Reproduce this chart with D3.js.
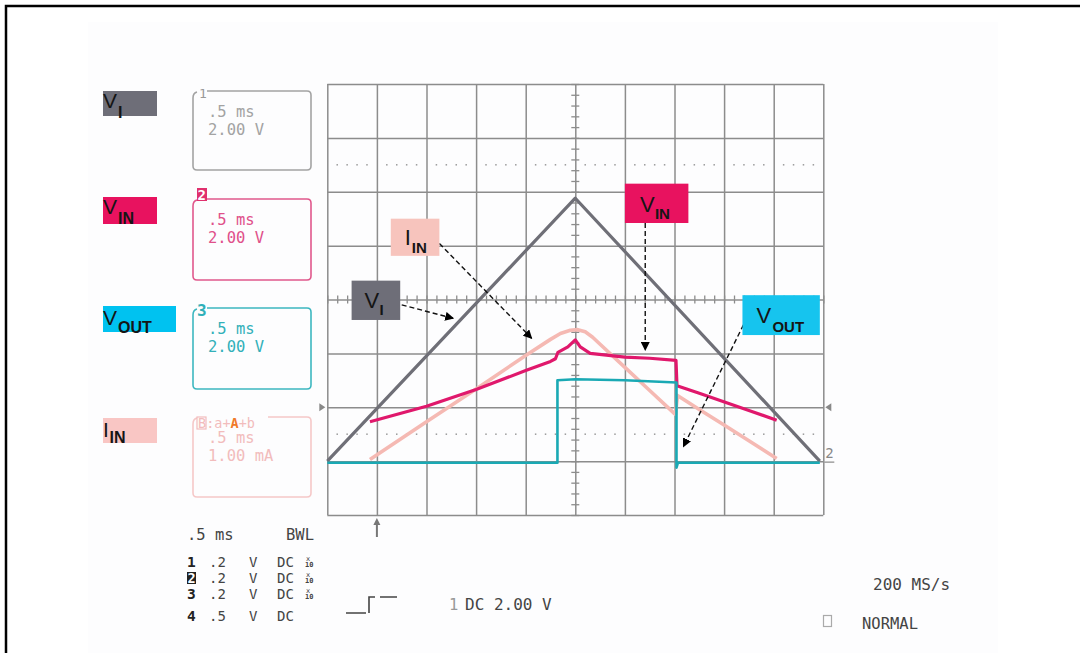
<!DOCTYPE html>
<html><head><meta charset="utf-8">
<script src="https://cdn.jsdelivr.net/npm/d3@7"></script>
<style>html,body{margin:0;padding:0;background:#fff;}svg{display:block}</style>
</head><body>
<svg id="c" width="1080" height="653"></svg>
<script>
// ---------- data (grid divisions: x 0..10, y 0..8) ----------
const xDivisions = d3.range(0, 11);
const yDivisions = d3.range(0, 9);
const minorTicksX = d3.range(0, 10.001, 0.2);
const minorTicksY = d3.range(0, 8.001, 0.2);
const dottedLevels = [1.5, 6.5];
const channelMarkerLevel = 2;
const groundLevel = 1;
const triggerPosition = 1;

const seriesVI   = [[0,1.0],[5.0,5.88],[9.93,1.0]];
const seriesIIN  = [[0.86,1.03],[2,1.73],[3,2.34],[4,2.96],[4.5,3.26],[4.7,3.37],[4.9,3.43],[5.05,3.44],[5.2,3.40],[5.35,3.30],[5.5,3.17],[6,2.74],[6.5,2.31],[6.99,1.89],[7.02,1.87],[7.06,2.22],[7.5,1.96],[8,1.67],[8.5,1.38],[9.06,1.05]];
const seriesVIN  = [[0.86,1.73],[2,2.02],[3,2.33],[4,2.68],[4.5,2.85],[4.6,2.9],[4.65,3.02],[4.85,3.12],[5.0,3.25],[5.1,3.12],[5.3,3.0],[6,2.93],[6.5,2.91],[7.03,2.87],[7.05,2.4],[7.5,2.26],[8.5,1.94],[9.06,1.76]];
const seriesVOUT = [[0,0.97],[4.64,0.97],[4.64,2.5],[5,2.52],[6,2.5],[7.04,2.46],[7.04,0.88],[7.07,0.97],[9.93,0.97]];

const seriesNames  = ["V_I","V_IN","V_OUT","I_IN"];
const channelNums  = ["1","2","3","B"];
const channelTime  = [".5 ms",".5 ms",".5 ms",".5 ms"];
const channelScale = ["2.00 V","2.00 V","2.00 V","1.00 mA"];
const bottomRows   = [["1",".2","V","DC",true],["2",".2","V","DC",true],["3",".2","V","DC",true],["4",".5","V","DC",false]];
const timebase = ".5 ms", bwl = "BWL", trigText = "DC 2.00 V", sampleRate = "200 MS/s", modeText = "NORMAL";

// annotations in division coordinates: box [x0,y0,x1,y1], arrow [x0,y0,x1,y1]
const annotations = [
  {main:"V", sub:"I",   color:"#6e6e78", box:[0.49,4.35,1.47,3.62], arrow:[1.50,3.90,2.54,3.65], tv:[13,27.5], ts:[28,34.5]},
  {main:"I", sub:"IN",  color:"#f7c4bd", box:[1.28,5.50,2.26,4.81], arrow:[2.26,5.04,4.12,3.28], tv:[14,26.5], ts:[21,34]},
  {main:"V", sub:"IN",  color:"#e8125f", box:[6.00,6.15,7.28,5.42], arrow:[6.41,5.42,6.41,3.06], tv:[15,28.5], ts:[30,35]},
  {main:"V", sub:"OUT", color:"#16c4ee", box:[8.37,4.08,9.93,3.34], arrow:[8.39,3.53,7.18,1.27], tv:[14,28], ts:[30,37]}
];

// ---------- setup ----------
const svg = d3.select("#c");
const x = d3.scaleLinear().domain([0,10]).range([327.3,823.3]);
const y = d3.scaleLinear().domain([0,8]).range([515,84]);
const gridColor = "#8c8c8c";
const mono = "'DejaVu Sans Mono','Liberation Mono',monospace";
const sans = "'Liberation Sans',Arial,sans-serif";

svg.append("rect").attr("width",1080).attr("height",653).attr("fill","#fff");
svg.append("rect").attr("x",88).attr("y",22).attr("width",910).attr("height",631).attr("fill","#fdfdfe");
// frame
svg.append("path").attr("d","M6,653 V6 H1080").attr("fill","none").attr("stroke","#000").attr("stroke-width",2.5);

const defs = svg.append("defs");
defs.append("marker").attr("id","ah").attr("viewBox","0 0 10 10").attr("refX",9).attr("refY",5)
  .attr("markerWidth",9).attr("markerHeight",9).attr("markerUnits","userSpaceOnUse").attr("orient","auto")
  .append("path").attr("d","M0,0 L10,5 L0,10 z").attr("fill","#000");

// ---------- grid via axes ----------
const plot = svg.append("g");
const gx = plot.append("g").attr("transform",`translate(0,${y(8)})`)
  .call(d3.axisTop(x).tickValues(xDivisions).tickSize(-(y(0)-y(8))).tickFormat(""));
const gy = plot.append("g").attr("transform",`translate(${x(0)},0)`)
  .call(d3.axisLeft(y).tickValues(yDivisions).tickSize(-(x(10)-x(0))).tickFormat(""));
[gx,gy].forEach(g=>{g.select(".domain").remove(); g.selectAll("line").attr("stroke",gridColor).attr("stroke-width",1.5);});

// center minor ticks
function centerTicks(axisFn, scale, vals, tr){
  const g = plot.append("g").attr("transform",tr).call(axisFn(scale).tickValues(vals).tickSize(4).tickFormat(""));
  g.select(".domain").remove(); g.selectAll("line").attr("stroke",gridColor).attr("stroke-width",1.3);
}
centerTicks(d3.axisLeft, y, minorTicksY, `translate(${x(5)},0)`);
centerTicks(d3.axisRight, y, minorTicksY, `translate(${x(5)},0)`);
centerTicks(d3.axisTop, x, minorTicksX, `translate(0,${y(4)})`);
centerTicks(d3.axisBottom, x, minorTicksX, `translate(0,${y(4)})`);

// dotted levels
const dotX = minorTicksX.filter(v=>Math.abs(v-Math.round(v))>0.01);
dottedLevels.forEach(l=>{
  plot.append("g").selectAll("rect").data(dotX).join("rect")
    .attr("x",d=>x(d)-0.75).attr("y",y(l)-0.75).attr("width",1.5).attr("height",1.5).attr("fill","#9a9a9a");
});

// channel markers
plot.append("path").attr("d",`M${x(0)-8},${y(channelMarkerLevel)-4} L${x(0)-2},${y(channelMarkerLevel)} L${x(0)-8},${y(channelMarkerLevel)+4} z`).attr("fill","#888");
plot.append("path").attr("d",`M${x(10)+8},${y(channelMarkerLevel)-4} L${x(10)+2},${y(channelMarkerLevel)} L${x(10)+8},${y(channelMarkerLevel)+4} z`).attr("fill","#888");
plot.append("text").attr("x",x(10)+2).attr("y",y(groundLevel)-3).attr("font-family",mono).attr("font-size",14).attr("fill","#888").text("2");
plot.append("line").attr("x1",x(10)+1).attr("x2",x(10)+11).attr("y1",y(groundLevel)+1).attr("y2",y(groundLevel)+1).attr("stroke","#888").attr("stroke-width",1.2);
// trigger position arrow
plot.append("line").attr("x1",x(triggerPosition)).attr("x2",x(triggerPosition)).attr("y1",y(0)+22).attr("y2",y(0)+6)
  .attr("stroke","#777").attr("stroke-width",2);
plot.append("path").attr("d",`M${x(triggerPosition)-3.5},${y(0)+10} L${x(triggerPosition)},${y(0)+3} L${x(triggerPosition)+3.5},${y(0)+10} z`).attr("fill","#777");

// ---------- traces ----------
const line = d3.line().x(d=>x(d[0])).y(d=>y(d[1]));
const traces = [
  {d:seriesIIN, c:"#f5b9b3", w:3.6},
  {d:seriesVI, c:"#6f6f77", w:3.2},
  {d:seriesVIN, c:"#e0186c", w:3.2},
  {d:seriesVOUT, c:"#1aa9b4", w:2.6}
];
plot.append("g").selectAll("path").data(traces).join("path")
  .attr("d",t=>line(t.d)).attr("fill","none").attr("stroke",t=>t.c).attr("stroke-width",t=>t.w)
  .attr("stroke-linejoin","round");

// ---------- annotations ----------
function label(g, bx, by, bw, bh, fill, main, sub, tv, ts, vs, ss){
  g.append("rect").attr("x",bx).attr("y",by).attr("width",bw).attr("height",bh).attr("fill",fill);
  g.append("text").attr("x",bx+tv[0]).attr("y",by+tv[1]).attr("font-family",sans).attr("font-size",vs).attr("fill","#151515").text(main);
  g.append("text").attr("x",bx+ts[0]).attr("y",by+ts[1]).attr("font-family",sans).attr("font-weight","bold").attr("font-size",ss).attr("fill","#151515").text(sub);
}
const ann = svg.append("g");
annotations.forEach(a=>{
  ann.append("line").attr("x1",x(a.arrow[0])).attr("y1",y(a.arrow[1])).attr("x2",x(a.arrow[2])).attr("y2",y(a.arrow[3]))
    .attr("stroke","#111").attr("stroke-width",1.4).attr("stroke-dasharray","5,3").attr("marker-end","url(#ah)");
  const bx=x(a.box[0]), by=y(a.box[1]), bw=x(a.box[2])-bx, bh=y(a.box[3])-by;
  label(ann,bx,by,bw,bh,a.color,a.main,a.sub,a.tv,a.ts,22,15);
});

// ---------- left legend ----------
const legend = svg.append("g");
const legendBoxes = [
  {main:"V", sub:"I",   fill:"#6e6e78", r:[103,91,54,25],  tv:[0,16.5], ts:[15,27]},
  {main:"V", sub:"IN",  fill:"#e8125f", r:[103,197,54,27], tv:[0,16.5], ts:[15,27]},
  {main:"V", sub:"OUT", fill:"#00c2f0", r:[103,306,73,26], tv:[0,19],   ts:[15,27]},
  {main:"I", sub:"IN",  fill:"#f9c6c4", r:[103,418,54,25], tv:[0,19],   ts:[6.5,25]}
];
legendBoxes.forEach(b=>label(legend,b.r[0],b.r[1],b.r[2],b.r[3],b.fill,b.main,b.sub,b.tv,b.ts,21,16));

// channel info boxes
const chanBoxes = [
  {x:193,y:91, w:118,h:79, c:"#a3a3a3", tc:"#a3a3a3"},
  {x:193,y:199,w:118,h:81, c:"#e0588c", tc:"#e0508a"},
  {x:193,y:308,w:118,h:81, c:"#3db7c0", tc:"#32b0b9"},
  {x:193,y:417,w:118,h:80, c:"#f5c8c8", tc:"#f2bcbc"}
];
chanBoxes.forEach((b,i)=>{
  const r=4, startX = i===3 ? b.x+75 : b.x+14;
  legend.append("path").attr("d",
    `M${startX},${b.y} H${b.x+b.w-r} Q${b.x+b.w},${b.y} ${b.x+b.w},${b.y+r} V${b.y+b.h-r} Q${b.x+b.w},${b.y+b.h} ${b.x+b.w-r},${b.y+b.h} H${b.x+r} Q${b.x},${b.y+b.h} ${b.x},${b.y+b.h-r} V${b.y+7} Q${b.x},${b.y+2} ${b.x+4},${b.y+1}`)
    .attr("fill","none").attr("stroke",b.c).attr("stroke-width",1.6);
  legend.append("text").attr("x",b.x+15).attr("y",b.y+26).attr("font-family",mono).attr("font-size",15.5).attr("fill",b.tc).text(channelTime[i]);
  legend.append("text").attr("x",b.x+15).attr("y",b.y+44).attr("font-family",mono).attr("font-size",15.5).attr("fill",b.tc).text(channelScale[i]);
});
// channel numbers
legend.append("text").attr("x",199).attr("y",98).attr("font-family",mono).attr("font-size",13).attr("fill","#999").text(channelNums[0]);
legend.append("rect").attr("x",197).attr("y",188).attr("width",10).attr("height",13).attr("fill","#e0306e");
legend.append("text").attr("x",197.5).attr("y",199.5).attr("font-family",mono).attr("font-size",14).attr("font-weight","bold").attr("fill","#fff").text(channelNums[1]);
legend.append("text").attr("x",197).attr("y",316).attr("font-family",mono).attr("font-size",16).attr("font-weight","bold").attr("fill","#30b0b9").text(channelNums[2]);
legend.append("rect").attr("x",197).attr("y",417).attr("width",9).attr("height",12).attr("fill","none").attr("stroke","#f2bcbc").attr("stroke-width",1.2);
const hdr = legend.append("text").attr("x",198).attr("y",428).attr("font-family",mono).attr("font-size",13.5).attr("fill","#f2bcbc");
hdr.append("tspan").text(channelNums[3]);
hdr.append("tspan").text(":a+");
hdr.append("tspan").attr("fill","#f07a2a").attr("font-weight","bold").text("A");
hdr.append("tspan").text("+b");

// ---------- bottom info ----------
const info = svg.append("g").attr("font-family",mono).attr("fill","#444");
info.append("text").attr("x",187).attr("y",540).attr("font-size",15.5).text(timebase);
info.append("text").attr("x",286).attr("y",540).attr("font-size",15.5).text(bwl);
const rowY = [567,583,599,621];
bottomRows.forEach((r,i)=>{
  const yy = rowY[i];
  if(i===1){
    info.append("rect").attr("x",187).attr("y",yy-11).attr("width",9).attr("height",12).attr("fill","#222");
    info.append("text").attr("x",187.5).attr("y",yy).attr("font-size",13.5).attr("font-weight","bold").attr("fill","#fff").text(r[0]);
  } else {
    info.append("text").attr("x",187).attr("y",yy).attr("font-size",14.5).attr("font-weight","bold").attr("fill","#222").text(r[0]);
  }
  info.append("text").attr("x",209).attr("y",yy).attr("font-size",14).text(r[1]);
  info.append("text").attr("x",249).attr("y",yy).attr("font-size",14).text(r[2]);
  info.append("text").attr("x",277).attr("y",yy).attr("font-size",14).text(r[3]);
  if(r[4]){
    const t = info.append("text").attr("x",306).attr("y",yy-6).attr("font-size",7);
    t.append("tspan").text("x");
    t.append("tspan").attr("x",305).attr("dy",6).attr("font-weight","bold").text("10");
  }
});
// trigger symbol
info.append("path").attr("d","M346,613 H366 M369,613 V597 H375 M380,597 H397").attr("fill","none").attr("stroke","#444").attr("stroke-width",1.6);
info.append("text").attr("x",449).attr("y",610).attr("font-size",15.5).attr("fill","#999").text("1");
info.append("text").attr("x",465).attr("y",610).attr("font-size",16).text(trigText);
info.append("text").attr("x",873).attr("y",590).attr("font-size",16).text(sampleRate);
info.append("rect").attr("x",823.5).attr("y",615.5).attr("width",8).attr("height",11).attr("fill","none").attr("stroke","#aaa").attr("stroke-width",1.2);
info.append("text").attr("x",862).attr("y",629).attr("font-size",15.5).text(modeText);
</script>
</body></html>
